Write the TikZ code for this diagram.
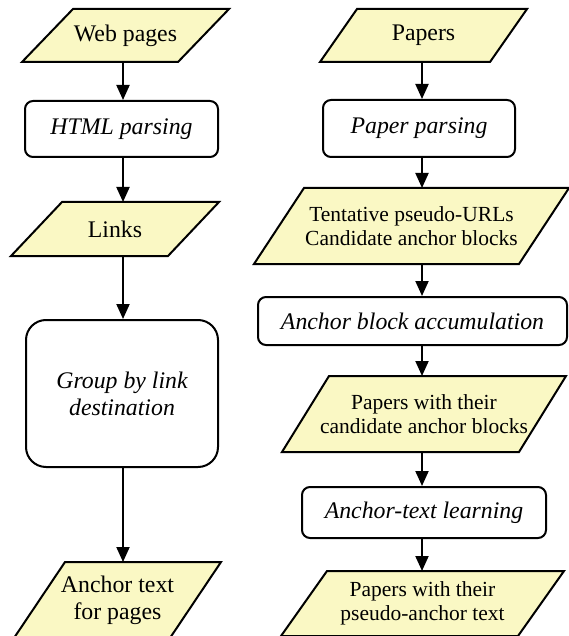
\documentclass[tikz,border=0pt]{standalone}
\usepackage{fontspec}
\setmainfont{Liberation Serif}
\usetikzlibrary{arrows.meta, backgrounds, positioning}

\definecolor{datafill}{RGB}{250,248,196}

\tikzset{
  base/.style={line width=1pt, inner sep=0pt, align=center,
    font=\fontsize{11.9}{13.5}\selectfont},
  data/.style={base, rectangle},
  proc/.style={base, draw, rectangle, rounded corners=4pt,
    font=\fontsize{11.9}{13.5}\selectfont\itshape},
  small/.style={font=\fontsize{10.75}{12}\selectfont},
  datashape/.style={draw, fill=datafill, line width=1pt, line join=miter},
  arr/.style={line width=1pt, -{Triangle[length=7.5pt,width=6.5pt]}},
}

\begin{document}
\begin{tikzpicture}[x=0.5pt, y=-0.5pt]
  \useasboundingbox (0,0) rectangle (568,636);
  \coordinate (lcol) at (123,0);
  \coordinate (rcol) at (422,0);

  % web pages
  \node[data, minimum width=77pt, minimum height=25.5pt] (web) at (125.5,35.5) {Web pages};
  \node[proc, minimum width=96.5pt, minimum height=28pt] (html) at (121.5,129) {HTML parsing};
  \node[data, minimum width=77.5pt, minimum height=26pt] (links) at (115,229) {Links};
  \node[proc, rounded corners=10pt, minimum width=96pt, minimum height=73.5pt] (group) at (122,393.5) {Group by link\\destination};
  \node[data, minimum width=77pt, minimum height=37pt] (anchor) at (117.5,600) {Anchor text\\for pages};

  % papers
  \node[data, minimum width=84pt, minimum height=25.5pt] (papers) at (423.5,35.5) {Papers};
  \node[proc, minimum width=96pt, minimum height=28.5pt] (pparse) at (419,128.5) {Paper parsing};
  \node[data, small, minimum width=131.5pt, minimum height=37pt] (tent) at (411.5,226) {Tentative pseudo-URLs\\Candidate anchor blocks};
  \node[proc, minimum width=154.5pt, minimum height=24pt] (accum) at (412.5,321) {Anchor block accumulation};
  \node[data, small, minimum width=117.5pt, minimum height=37pt] (cand) at (424,414) {Papers with their\\candidate anchor blocks};
  \node[proc, minimum width=122pt, minimum height=25.5pt] (learn) at (424,512.5) {Anchor-text learning};
  \node[data, small, minimum width=117.5pt, minimum height=31.5pt] (pseudo) at (422.5,603.5) {Papers with their\\pseudo-anchor text};

  % slanted boxes behind the data nodes
  \begin{scope}[on background layer]
    \foreach \n/\d in {web/12.75, links/12.75, anchor/12.75, papers/9.25, tent/12.5, cand/11.75, pseudo/11.5}
      \path[datashape] ([xshift=\d pt]\n.north west) -- ([xshift=\d pt]\n.north east)
        -- ([xshift=-\d pt]\n.south east) -- ([xshift=-\d pt]\n.south west) -- cycle;
  \end{scope}

  \foreach \a/\b in {web/html, html/links, links/group, group/anchor}
    \draw[arr] (\a.south -| lcol) -- (\b.north -| lcol);
  \foreach \a/\b in {papers/pparse, pparse/tent, tent/accum, accum/cand, cand/learn, learn/pseudo}
    \draw[arr] (\a.south -| rcol) -- (\b.north -| rcol);
\end{tikzpicture}
\end{document}
